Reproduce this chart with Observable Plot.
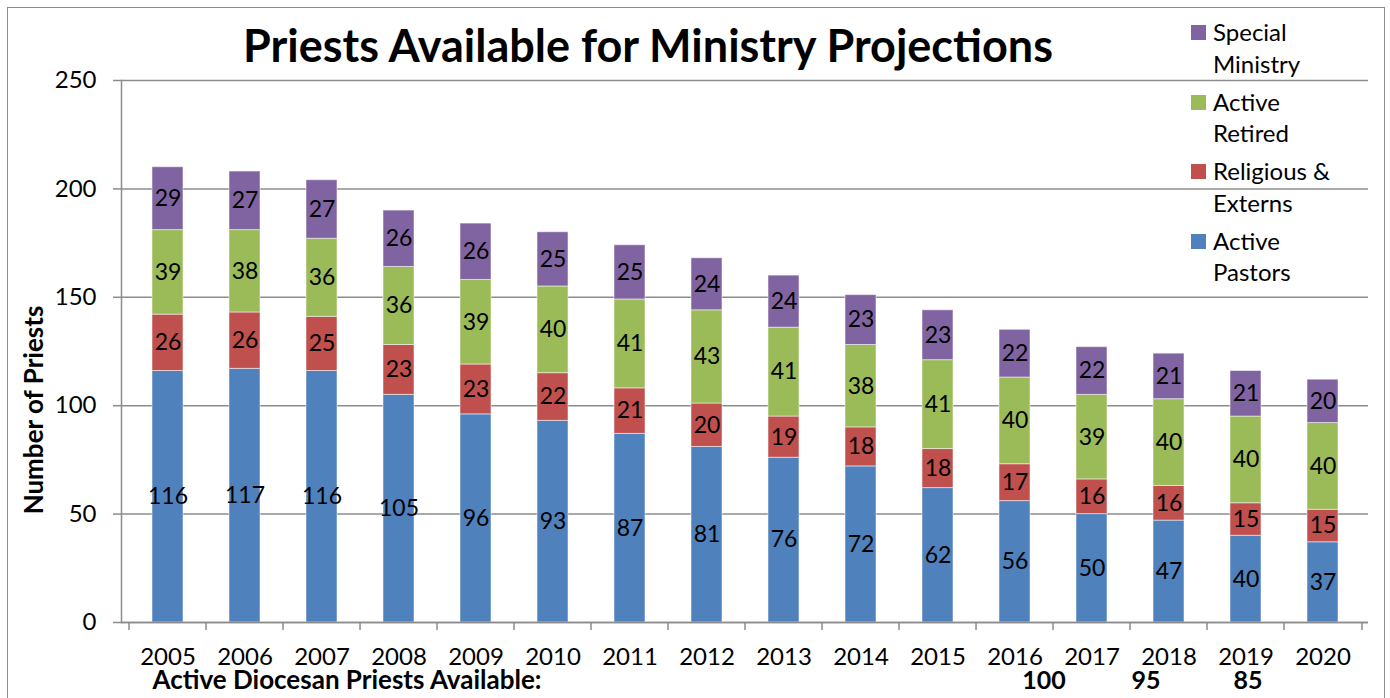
<!DOCTYPE html>
<html>
<head>
<meta charset="utf-8">
<script src="https://cdn.jsdelivr.net/npm/d3@7"></script>
<script src="https://cdn.jsdelivr.net/npm/@observablehq/plot@0.6"></script>
<style>
  body { margin: 0; background: #fff; }
  #wrap { position: relative; width: 1390px; height: 698px; overflow: hidden; font-family: Lato, sans-serif; color: #000; }
  #border { position: absolute; left: 7px; top: 7px; width: 1378px; height: 740px; border: 1.5px solid #8c8c8c; box-sizing: border-box; }
  #chart { position: absolute; left: 0; top: 0; }
  #title { position: absolute; left: 0; top: 18px; width: 1296px; text-align: center; font-weight: bold; font-size: 45px; line-height: 54px; }
  #ylabel { position: absolute; left: 33px; top: 410px; width: 0; height: 0; }
  #ylabel span { position: absolute; left: 0; top: 0; transform: translate(-50%, -50%) rotate(-90deg); white-space: nowrap; font-weight: bold; font-size: 26px; }
  .leg { position: absolute; left: 1191px; font-size: 24px; line-height: 31.5px; }
  .leg .sw { position: absolute; left: 0; top: 9px; width: 15px; height: 15px; }
  .leg .tx { position: absolute; left: 22px; top: 0; white-space: nowrap; }
</style>
</head>
<body>
<div id="wrap">
  <div id="border"></div>
  <div id="chart"></div>
  <div id="title"></div>
  <div id="ylabel"><span></span></div>
</div>
<script>
// ---- data ----
const chartTitle = "Priests Available for Ministry Projections";
const yLabel = "Number of Priests";
const years = [2005, 2006, 2007, 2008, 2009, 2010, 2011, 2012, 2013, 2014, 2015, 2016, 2017, 2018, 2019, 2020];
const series = ["Active Pastors", "Religious & Externs", "Active Retired", "Special Ministry"];
const seriesColors = ["#4F81BD", "#C0504D", "#9BBB59", "#8064A2"];
const activePastors    = [116, 117, 116, 105, 96, 93, 87, 81, 76, 72, 62, 56, 50, 47, 40, 37];
const religiousExterns = [26, 26, 25, 23, 23, 22, 21, 20, 19, 18, 18, 17, 16, 16, 15, 15];
const activeRetired    = [39, 38, 36, 36, 39, 40, 41, 43, 41, 38, 41, 40, 39, 40, 40, 40];
const specialMinistry  = [29, 27, 27, 26, 26, 25, 25, 24, 24, 23, 23, 22, 22, 21, 21, 20];
const yTicks = [0, 50, 100, 150, 200, 250];
const legendOrder = ["Special Ministry", "Active Retired", "Religious & Externs", "Active Pastors"];
const legendLines = [["Special", "Ministry"], ["Active", "Retired"], ["Religious &", "Externs"], ["Active", "Pastors"]];
const diocesanLabel = "Active Diocesan Priests Available:";
const diocesanYears = [2016, 2018, 2019];
const diocesanValues = [100, 95, 85];

// ---- build table ----
const seriesValues = [activePastors, religiousExterns, activeRetired, specialMinistry];
const data = [];
series.forEach((s, k) => years.forEach((yr, i) => data.push({year: String(yr), series: s, value: seriesValues[k][i]})));

// ---- layout ----
const W = 1390, H = 698, mL = 121, mR = 22, mT = 80, mB = 76;
const step = (W - mL - mR) / years.length;
const gray = "#8c8c8c";
const font = "Lato, sans-serif";

const dioc = diocesanYears.map((y, i) => ({year: String(y), value: diocesanValues[i]}));
const dioDx = [29, -23, 2];

const plot = Plot.plot({
  width: W, height: H,
  marginLeft: mL, marginRight: mR, marginTop: mT, marginBottom: mB,
  style: {fontFamily: font, fontSize: "22px", color: "#000", background: "transparent", overflow: "visible"},
  x: {domain: years.map(String), paddingInner: 0.6, paddingOuter: 0.3, axis: null},
  y: {domain: [0, 250], axis: null},
  color: {domain: series, range: seriesColors},
  marks: [
    Plot.gridY(yTicks, {stroke: gray, strokeOpacity: 1, strokeWidth: 1.5}),
    Plot.axisY(yTicks, {tickSize: 8, tickPadding: 17, stroke: gray, strokeWidth: 1.5, label: null, fontSize: 24}),
    Plot.barY(data, Plot.stackY({x: "year", y: "value", fill: "series", order: series, stroke: "#ffffff", strokeOpacity: 0.5, strokeWidth: 1})),
    Plot.text(data, Plot.stackY({x: "year", y: "value", z: "series", order: series, text: "value", fontSize: 23, fill: "#000"})),
    Plot.ruleY([0], {stroke: gray, strokeWidth: 1.5}),
    Plot.frame({anchor: "left", stroke: gray, strokeWidth: 1.5}),
    Plot.axisX(years.map(String), {tickSize: 8, dx: -step / 2, tickFormat: () => "", stroke: gray, strokeWidth: 1.5, label: null}),
    Plot.axisX([String(years[years.length - 1])], {tickSize: 8, dx: step / 2, tickFormat: () => "", stroke: gray, strokeWidth: 1.5, label: null}),
    Plot.axisX(years.map(String), {tickSize: 0, tickPadding: 25, label: null, fontSize: 24}),
    Plot.text([diocesanLabel], {frameAnchor: "bottom-left", textAnchor: "start", dx: 31, dy: 66, fontWeight: "bold", fontSize: 26}),
    ...dioc.map((d, i) => Plot.text([d], {x: "year", frameAnchor: "bottom", text: "value", dx: dioDx[i], dy: 66, fontWeight: "bold", fontSize: 25}))
  ]
});
document.getElementById("chart").appendChild(plot);
document.getElementById("title").textContent = chartTitle;
document.querySelector("#ylabel span").textContent = yLabel;

// legend
const wrap = document.getElementById("wrap");
legendOrder.forEach((s, i) => {
  const div = document.createElement("div");
  div.className = "leg";
  div.style.top = (16 + i * 69.5) + "px";
  const sw = document.createElement("div");
  sw.className = "sw";
  sw.style.background = seriesColors[series.indexOf(s)];
  const tx = document.createElement("div");
  tx.className = "tx";
  tx.innerHTML = legendLines[i].map(t => t.replace("&", "&amp;")).join("<br>");
  div.appendChild(sw); div.appendChild(tx);
  wrap.appendChild(div);
});
</script>
</body>
</html>
